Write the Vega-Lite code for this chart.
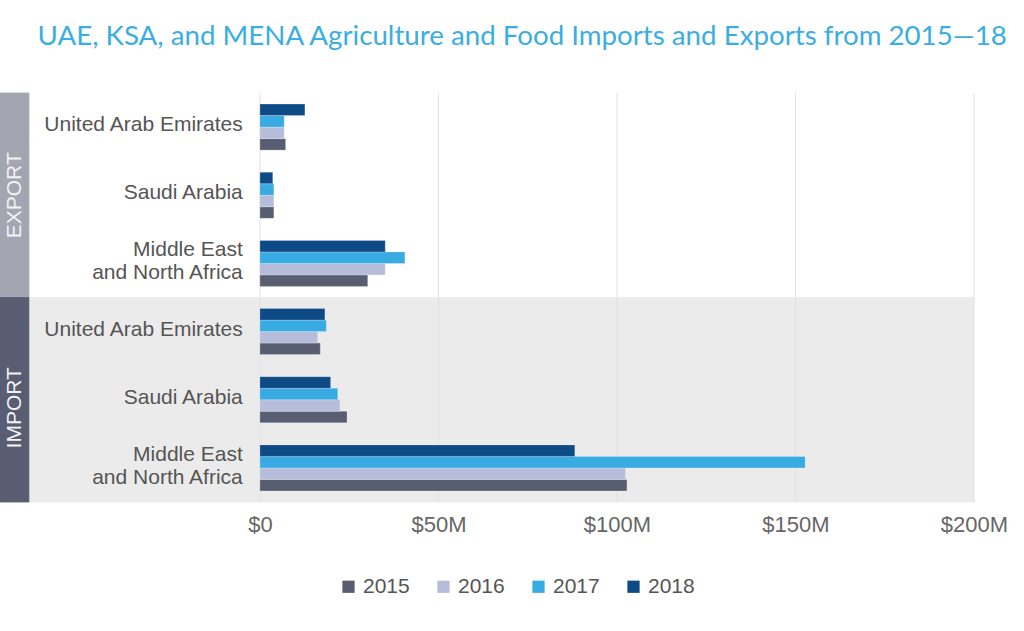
{
  "$schema": "https://vega.github.io/schema/vega-lite/v6.json",
  "width": 974,
  "height": 409,
  "autosize": {"type": "none"},
  "padding": {"left": 0, "top": 93, "right": 50, "bottom": 129},
  "background": "#ffffff",
  "title": {
    "text": "UAE, KSA, and MENA Agriculture and Food Imports and Exports from 2015\u201418",
    "anchor": "start",
    "dx": 38,
    "offset": 42,
    "font": "Lato",
    "fontSize": 27.7,
    "fontWeight": "normal",
    "color": "#3aaee2"
  },
  "config": {
    "view": {"stroke": null},
    "font": "Liberation Sans",
    "text": {"lineBreak": "\n"}
  },
  "datasets": {
    "trade": [
      {"flow": "EXPORT", "country": "United Arab Emirates", "year": "2015", "value": 7.2},
      {"flow": "EXPORT", "country": "United Arab Emirates", "year": "2016", "value": 6.8},
      {"flow": "EXPORT", "country": "United Arab Emirates", "year": "2017", "value": 6.8},
      {"flow": "EXPORT", "country": "United Arab Emirates", "year": "2018", "value": 12.6},
      {"flow": "EXPORT", "country": "Saudi Arabia", "year": "2015", "value": 3.9},
      {"flow": "EXPORT", "country": "Saudi Arabia", "year": "2016", "value": 3.9},
      {"flow": "EXPORT", "country": "Saudi Arabia", "year": "2017", "value": 3.9},
      {"flow": "EXPORT", "country": "Saudi Arabia", "year": "2018", "value": 3.6},
      {"flow": "EXPORT", "country": "Middle East\nand North Africa", "year": "2015", "value": 30.2},
      {"flow": "EXPORT", "country": "Middle East\nand North Africa", "year": "2016", "value": 35.1},
      {"flow": "EXPORT", "country": "Middle East\nand North Africa", "year": "2017", "value": 40.6},
      {"flow": "EXPORT", "country": "Middle East\nand North Africa", "year": "2018", "value": 35.1},
      {"flow": "IMPORT", "country": "United Arab Emirates", "year": "2015", "value": 16.9},
      {"flow": "IMPORT", "country": "United Arab Emirates", "year": "2016", "value": 16.2},
      {"flow": "IMPORT", "country": "United Arab Emirates", "year": "2017", "value": 18.6},
      {"flow": "IMPORT", "country": "United Arab Emirates", "year": "2018", "value": 18.2},
      {"flow": "IMPORT", "country": "Saudi Arabia", "year": "2015", "value": 24.4},
      {"flow": "IMPORT", "country": "Saudi Arabia", "year": "2016", "value": 22.4},
      {"flow": "IMPORT", "country": "Saudi Arabia", "year": "2017", "value": 21.8},
      {"flow": "IMPORT", "country": "Saudi Arabia", "year": "2018", "value": 19.8},
      {"flow": "IMPORT", "country": "Middle East\nand North Africa", "year": "2015", "value": 102.8},
      {"flow": "IMPORT", "country": "Middle East\nand North Africa", "year": "2016", "value": 102.4},
      {"flow": "IMPORT", "country": "Middle East\nand North Africa", "year": "2017", "value": 152.7},
      {"flow": "IMPORT", "country": "Middle East\nand North Africa", "year": "2018", "value": 88.2}
    ],
    "ticks": [{"tick": 0}, {"tick": 50}, {"tick": 100}, {"tick": 150}, {"tick": 200}]
  },
  "data": {"name": "trade"},
  "transform": [{"calculate": "datum.flow + '|' + datum.country", "as": "key"}],
  "encoding": {
    "y": {
      "field": "key",
      "type": "nominal",
      "axis": null,
      "scale": {
        "domain": [
          "EXPORT|United Arab Emirates",
          "EXPORT|Saudi Arabia",
          "EXPORT|Middle East\nand North Africa",
          "IMPORT|United Arab Emirates",
          "IMPORT|Saudi Arabia",
          "IMPORT|Middle East\nand North Africa"
        ],
        "paddingInner": 0,
        "paddingOuter": 0
      }
    }
  },
  "layer": [
    {
      "transform": [{"filter": "datum.flow === 'IMPORT' && datum.year === '2015'"}],
      "mark": {"type": "rect", "fill": "#ebebeb", "stroke": "#ebebeb", "strokeWidth": 0.8},
      "encoding": {
        "x": {
          "datum": -64.5,
          "type": "quantitative",
          "scale": {"domain": [-72.8, 200], "nice": false, "zero": false},
          "axis": {
            "values": [0, 50, 100, 150, 200],
            "labelExpr": "datum.value === 0 ? '$0' : '$' + datum.value + 'M'",
            "domain": false,
            "ticks": false,
            "grid": false,
            "labelFlush": false,
            "labelOverlap": false,
            "labelFontSize": 22,
            "labelColor": "#666666",
            "labelPadding": 12,
            "labelFont": "Liberation Sans",
            "title": null
          }
        },
        "x2": {"datum": 200}
      }
    },
    {
      "data": {"name": "ticks"},
      "mark": {"type": "rule", "color": "#e1e1e1", "strokeWidth": 1},
      "encoding": {
        "x": {"field": "tick", "type": "quantitative"},
        "y": null
      }
    },
    {
      "transform": [{"filter": "datum.year === '2015'"}],
      "mark": {"type": "rect", "strokeWidth": 0.8},
      "encoding": {
        "x": {"datum": -72.8, "type": "quantitative"},
        "x2": {"datum": -64.7},
        "fill": {
          "condition": {"test": "datum.flow === 'EXPORT'", "value": "#a3a6b1"},
          "value": "#585d71"
        },
        "stroke": {
          "condition": {"test": "datum.flow === 'EXPORT'", "value": "#a3a6b1"},
          "value": "#585d71"
        }
      }
    },
    {
      "mark": {"type": "bar", "stroke": "#ffffff", "strokeWidth": 0.4, "strokeOpacity": 0.6},
      "encoding": {
        "x": {"field": "value", "type": "quantitative"},
        "yOffset": {
          "field": "year",
          "type": "nominal",
          "sort": "descending",
          "scale": {"paddingInner": 0, "paddingOuter": 0.96}
        },
        "color": {
          "field": "year",
          "type": "nominal",
          "scale": {
            "domain": ["2015", "2016", "2017", "2018"],
            "range": ["#585d71", "#b6bddb", "#38abe2", "#0e4b86"]
          },
          "legend": {
            "orient": "none",
            "legendX": 338,
            "legendY": 483,
            "direction": "horizontal",
            "title": null,
            "symbolType": "square",
            "symbolSize": 150,
            "symbolStrokeWidth": 0,
            "labelFontSize": 21,
            "labelColor": "#555555",
            "labelFont": "Liberation Sans",
            "columnPadding": 23
          }
        }
      }
    },
    {
      "transform": [{"filter": "datum.year === '2015' && datum.country !== 'Middle East\\nand North Africa'"}],
      "mark": {"type": "text", "align": "right", "baseline": "middle", "dy": -2, "fontSize": 21, "color": "#555555", "font": "Liberation Sans"},
      "encoding": {
        "x": {"datum": -4.8, "type": "quantitative"},
        "text": {"field": "country"}
      }
    },
    {
      "transform": [{"filter": "datum.year === '2015' && datum.country === 'Middle East\\nand North Africa'"}],
      "mark": {"type": "text", "align": "right", "baseline": "middle", "dy": -13, "fontSize": 21, "lineHeight": 23, "color": "#555555", "font": "Liberation Sans"},
      "encoding": {
        "x": {"datum": -4.8, "type": "quantitative"},
        "text": {"field": "country"}
      }
    },
    {
      "transform": [{"filter": "datum.year === '2015' && datum.country === 'Saudi Arabia' && datum.flow === 'EXPORT'"}],
      "mark": {"type": "text", "angle": 270, "align": "center", "baseline": "middle", "fontSize": 21, "color": "#f2f2f4", "font": "Liberation Sans"},
      "encoding": {
        "x": {"datum": -68.7, "type": "quantitative"},
        "text": {"field": "flow"}
      }
    },
    {
      "transform": [{"filter": "datum.year === '2015' && datum.country === 'Saudi Arabia' && datum.flow === 'IMPORT'"}],
      "mark": {"type": "text", "angle": 270, "align": "center", "baseline": "middle", "dx": -8, "fontSize": 21, "color": "#f2f2f4", "font": "Liberation Sans"},
      "encoding": {
        "x": {"datum": -68.7, "type": "quantitative"},
        "text": {"field": "flow"}
      }
    }
  ]
}
